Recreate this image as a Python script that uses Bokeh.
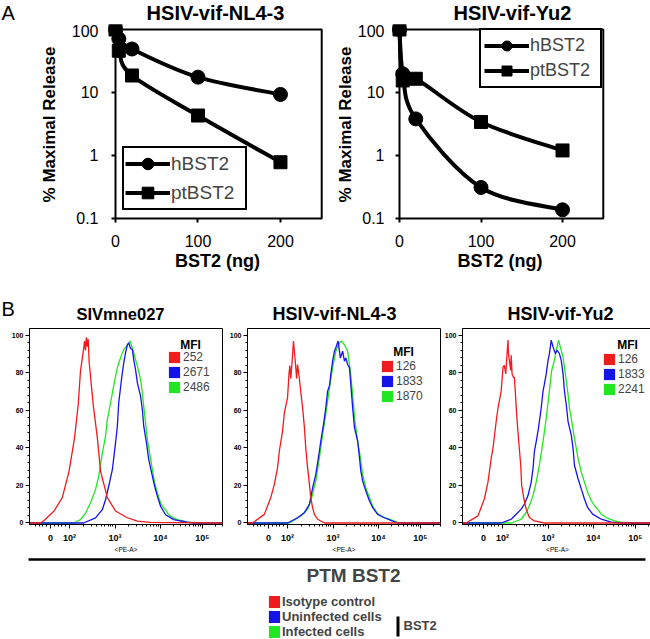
import math
from bokeh.plotting import figure
from bokeh.layouts import column, row
from bokeh.models import Range1d, FixedTicker, Label, Legend, LegendItem, BoxAnnotation
from bokeh.embed import file_html
from bokeh.resources import INLINE

FONT = "Liberation Sans"

# ---------------- Panel A data ----------------
bst2_ng = [0, 4, 20, 100, 200]
nl43_hbst2 = [100, 71, 49, 17.5, 9.3]
nl43_ptbst2 = [100, 46, 18.6, 4.3, 0.78]
yu2_hbst2 = [100, 19.8, 3.8, 0.31, 0.137]
yu2_ptbst2 = [100, 15.5, 16.5, 3.4, 1.2]
a_xticks = [0, 100, 200]
a_yticks = [0.1, 1, 10, 100]
a_yticklabels = ["0.1", "1", "10", "100"]

# ---------------- Panel B data (x in display decades of <PE-A>) ----------------
h1_red_x = [1.12, 1.36, 1.44, 1.66, 1.84, 1.99, 2.11, 2.19, 2.24, 2.31, 2.33, 2.35, 2.37, 2.39, 2.41, 2.43, 2.52, 2.61, 2.68, 2.83, 3.01, 3.27, 3.49, 3.78, 5.36]
h1_red_y = [0, 0, 1.3, 6.4, 13.5, 27.7, 45.5, 63, 81, 93, 97, 92, 99, 94, 98, 86, 63, 45.5, 27.7, 13.5, 6.4, 2.8, 1.0, 0.3, 0]
h1_blue_x = [1.12, 2.31, 2.57, 2.72, 2.79, 2.86, 2.94, 3.01, 3.05, 3.08, 3.14, 3.19, 3.23, 3.27, 3.30, 3.34, 3.38, 3.41, 3.45, 3.49, 3.56, 3.60, 3.63, 3.69, 3.74, 3.82, 3.87, 3.93, 4.00, 4.11, 4.29, 4.59, 4.73, 5.36]
h1_blue_y = [0, 0, 2.7, 7.1, 12.4, 19.6, 28.4, 42.7, 51.6, 64, 76.4, 85.3, 90.7, 95, 96, 93, 92.4, 87, 81.8, 74.7, 67.6, 60.4, 51.6, 42.7, 33.8, 24.9, 19.6, 14.2, 8.9, 4.4, 1.8, 0.4, 0, 0]
h1_green_x = [1.12, 2.09, 2.24, 2.35, 2.46, 2.57, 2.64, 2.72, 2.79, 2.83, 2.86, 2.94, 3.01, 3.05, 3.08, 3.16, 3.19, 3.27, 3.33, 3.38, 3.41, 3.49, 3.56, 3.60, 3.63, 3.67, 3.71, 3.76, 3.82, 3.87, 3.93, 4.00, 4.07, 4.11, 4.15, 4.22, 4.37, 4.59, 4.88, 5.36]
h1_green_y = [0, 0, 1.8, 5.3, 10.7, 17.8, 24.9, 37.3, 46.2, 55.1, 58.7, 69.3, 78.2, 82.7, 85.3, 90.7, 92.4, 95, 97, 93.3, 90.7, 83.6, 76.4, 69.3, 62.2, 53.3, 44.4, 37.3, 28.4, 21.3, 16, 10.7, 8, 7.1, 5.3, 3.6, 1.8, 0.4, 0, 0]

h2_red_x = [1.12, 1.23, 1.49, 1.63, 1.71, 1.78, 1.82, 1.89, 1.93, 2.00, 2.03, 2.05, 2.07, 2.10, 2.13, 2.17, 2.20, 2.22, 2.26, 2.29, 2.33, 2.37, 2.40, 2.44, 2.48, 2.51, 2.55, 2.59, 2.66, 2.81, 5.36]
h2_red_y = [0, 0, 4.6, 13.5, 20.6, 29.5, 38.4, 49, 58.8, 66.8, 79, 84, 77, 86, 97, 86, 77, 84.5, 77, 70, 61.5, 51, 40, 29.5, 20.6, 13.5, 8.2, 4.6, 2, 0, 0]
h2_blue_x = [1.12, 2.00, 2.22, 2.37, 2.48, 2.55, 2.62, 2.70, 2.73, 2.79, 2.84, 2.88, 2.92, 2.95, 2.99, 3.03, 3.06, 3.11, 3.16, 3.21, 3.25, 3.28, 3.32, 3.36, 3.39, 3.43, 3.47, 3.54, 3.58, 3.61, 3.65, 3.72, 3.80, 3.87, 3.98, 4.13, 4.27, 4.42, 5.36]
h2_blue_y = [0, 0, 2.8, 5.5, 9.9, 18.7, 25.8, 38.4, 43.7, 52.6, 61.4, 70.3, 73, 79.2, 86.3, 91.6, 93.4, 97, 88, 91.6, 86.3, 88, 84.5, 82.7, 73.9, 61.4, 50.8, 43.7, 34.8, 27.7, 22.4, 17, 11.7, 8.2, 4.6, 2.8, 1.4, 0, 0]
h2_green_x = [1.12, 2.04, 2.29, 2.44, 2.53, 2.62, 2.70, 2.77, 2.84, 2.92, 2.99, 3.06, 3.14, 3.19, 3.25, 3.32, 3.38, 3.43, 3.48, 3.54, 3.60, 3.65, 3.72, 3.80, 3.87, 3.96, 4.09, 4.27, 4.45, 5.36]
h2_green_y = [0, 0, 3.7, 7.3, 13.5, 22.4, 34.8, 47.2, 58, 72, 82.7, 91.6, 96, 97, 95, 91.6, 81, 68.5, 54.4, 43.7, 34.8, 25.8, 18.7, 13.5, 9, 5.5, 3.2, 1.8, 0, 0]

h3_red_x = [1.12, 1.20, 1.46, 1.60, 1.68, 1.75, 1.79, 1.86, 1.90, 1.97, 2.01, 2.04, 2.07, 2.10, 2.12, 2.13, 2.15, 2.18, 2.19, 2.21, 2.24, 2.26, 2.28, 2.31, 2.35, 2.40, 2.42, 2.47, 2.52, 2.59, 2.70, 2.92, 5.36]
h3_red_y = [0, 0, 3.8, 12.8, 21.8, 34.4, 39.8, 54.1, 61.3, 70.3, 83, 84, 79.5, 90.3, 97.5, 90.3, 86.7, 81.3, 89.4, 79.5, 77.6, 77.6, 70.3, 57.8, 45.2, 30.8, 20, 12.8, 7.4, 2.9, 1.1, 0, 0]
h3_blue_x = [1.12, 1.97, 2.19, 2.30, 2.41, 2.48, 2.56, 2.63, 2.67, 2.70, 2.74, 2.79, 2.85, 2.89, 2.92, 2.96, 3.00, 3.03, 3.07, 3.11, 3.16, 3.20, 3.25, 3.29, 3.33, 3.36, 3.40, 3.44, 3.51, 3.55, 3.58, 3.66, 3.73, 3.80, 3.87, 3.98, 4.17, 4.39, 4.61, 5.36]
h3_blue_y = [0, 0, 2, 4.7, 7.4, 10.1, 14.6, 21.8, 29, 38, 43.4, 50.6, 61.3, 70.3, 74, 79.5, 86.7, 90.3, 97.5, 93.9, 90.3, 92.1, 90.3, 86.7, 79.5, 70.5, 63.2, 54.1, 47, 39.8, 30.8, 23.6, 18.2, 12.8, 8.3, 4.7, 2, 0.5, 0, 0]
h3_green_x = [1.12, 2.19, 2.41, 2.52, 2.59, 2.67, 2.74, 2.81, 2.89, 2.96, 3.03, 3.08, 3.14, 3.18, 3.23, 3.29, 3.33, 3.36, 3.40, 3.44, 3.47, 3.51, 3.58, 3.66, 3.73, 3.80, 3.87, 3.95, 4.02, 4.09, 4.17, 4.28, 4.46, 4.68, 5.36]
h3_green_y = [0, 0, 2, 5.6, 9.2, 14.6, 21.8, 30.8, 43.4, 55.9, 70.3, 81.3, 86.7, 92.1, 97.5, 92.1, 88.5, 83.1, 75.9, 68.6, 61.4, 56, 45.2, 34.4, 27.2, 21.8, 16.4, 12, 9.2, 7.4, 4.7, 2.9, 1.1, 0, 0]

h1_mfi = ["252", "2671", "2486"]
h2_mfi = ["126", "1833", "1870"]
h3_mfi = ["126", "1833", "2241"]

pe_ticks = [1.58, 2, 3, 4, 4.92]
pe_ticklabels = ["0", "10\u00b2", "10\u00b3", "10\u2074", "10\u2075"]
count_ticks = [0, 20, 40, 60, 80, 100]

legend_names = ["Isotype control", "Uninfected cells", "Infected cells"]

RED, BLUE, GREEN = "#ee1c1c", "#1414e6", "#22e622"


def smooth_segments(xs, ys):
    lx = list(xs)
    ly = [math.log10(v) for v in ys]
    n = len(lx)
    d = dict(x0=[], y0=[], x1=[], y1=[], cx0=[], cy0=[], cx1=[], cy1=[])
    for i in range(n - 1):
        i0 = max(i - 1, 0)
        i3 = min(i + 2, n - 1)
        d["x0"].append(lx[i]); d["y0"].append(10 ** ly[i])
        d["x1"].append(lx[i + 1]); d["y1"].append(10 ** ly[i + 1])
        d["cx0"].append(lx[i] + (lx[i + 1] - lx[i0]) / 6)
        d["cy0"].append(10 ** (ly[i] + (ly[i + 1] - ly[i0]) / 6))
        d["cx1"].append(lx[i + 1] - (lx[i3] - lx[i]) / 6)
        d["cy1"].append(10 ** (ly[i + 1] - (ly[i3] - ly[i]) / 6))
    return d


def strip(h, texts):
    p = figure(frame_width=650, frame_height=h, min_border=0, x_range=Range1d(0, 650),
               y_range=Range1d(0, h), x_axis_type=None, y_axis_type=None,
               toolbar_location=None, output_backend="svg")
    p.outline_line_color = None
    for x, y, text, size, bold, align in texts:
        p.add_layout(Label(x=x, y=y, text=text, text_font=FONT, text_font_size=size,
                           text_font_style="bold" if bold else "normal", text_align=align,
                           text_baseline="middle", text_color="black", text_line_height=1.0))
    return p


def flabel(p, x, y, text, size, bold=True):
    p.add_layout(Label(x=x, y=y, x_units="screen", y_units="screen", text=text,
                       text_font=FONT, text_font_size=size,
                       text_font_style="bold" if bold else "normal",
                       text_align="center", text_baseline="middle", text_color="black"))


def panel_a(hb, pt, xr, frame_w, bl, br, leg_xy, leg_h, leg_pad, leg_lw, leg_font,
            ylab_standoff, ylab_s):
    p = figure(frame_width=frame_w, frame_height=200, min_border_left=bl, min_border_right=br,
               min_border_top=0, min_border_bottom=66, x_range=Range1d(*xr),
               y_range=Range1d(0.08, 120), y_axis_type="log",
               toolbar_location=None, output_backend="svg")
    p.grid.visible = False
    p.outline_line_color = None
    for ax in (p.xaxis[0], p.yaxis[0]):
        ax.axis_line_color = None
        ax.major_tick_line_width = 2
        ax.minor_tick_line_color = None
        ax.major_label_text_font = FONT
        ax.major_label_text_font_size = "16px"
        ax.major_label_text_color = "black"
        ax.axis_label_text_font = FONT
        ax.axis_label_text_font_style = "bold"
        ax.axis_label_text_color = "black"
    p.yaxis.major_tick_in = 8
    p.yaxis.major_tick_out = -4
    p.yaxis.major_label_standoff = ylab_s
    p.xaxis.major_tick_in = 6
    p.xaxis.major_tick_out = -2
    p.xaxis.major_label_standoff = 10
    p.xaxis.ticker = FixedTicker(ticks=a_xticks)
    p.yaxis.ticker = FixedTicker(ticks=a_yticks)
    p.yaxis.major_label_overrides = dict(zip(a_yticks, a_yticklabels))
    p.xaxis.axis_label = "BST2 (ng)"
    p.xaxis.axis_label_text_font_size = "18px"
    p.xaxis.axis_label_standoff = 1
    p.yaxis.axis_label = "% Maximal Release"
    p.yaxis.axis_label_text_font_size = "17px"
    p.yaxis.axis_label_standoff = ylab_standoff

    p.add_layout(BoxAnnotation(left=0, right=250, bottom=0.1, top=100, fill_color=None,
                               line_color="black", line_alpha=1, line_width=2))

    items = []
    for name, vals, marker, size in (("hBST2", hb, "circle", 14), ("ptBST2", pt, "square", 13)):
        seg = smooth_segments(bst2_ng, vals)
        lr = p.bezier(x0=seg["x0"], y0=seg["y0"], x1=seg["x1"], y1=seg["y1"],
                      cx0=seg["cx0"], cy0=seg["cy0"], cx1=seg["cx1"], cy1=seg["cy1"],
                      line_color="black", line_width=4)
        sr = p.scatter(bst2_ng, vals, marker=marker, size=size, fill_color="black", line_color="black")
        items.append(LegendItem(label=name, renderers=[lr, sr]))
    leg = Legend(items=items, location=leg_xy, glyph_width=45, glyph_height=leg_h,
                 label_height=leg_h, spacing=0, padding=leg_pad, margin=0, label_standoff=1,
                 label_width=leg_lw, label_text_font=FONT, label_text_font_size=leg_font,
                 border_line_color="black", border_line_width=2, border_line_alpha=1,
                 background_fill_color="white", background_fill_alpha=1)
    p.add_layout(leg)
    return p


strip_a = strip(24, [(1, 11.5, "A", "20px", False, "left"),
                     (215, 11.5, "HSIV-vif-NL4-3", "20px", True, "center"),
                     (512, 11.5, "HSIV-vif-Yu2", "20px", True, "center")])

pa1 = panel_a(nl43_hbst2, nl43_ptbst2, (-9.7, 257), 220, 107, 0,
              (15, 14), 29, 1, 73, "19px", 10, 9)
pa2 = panel_a(yu2_hbst2, yu2_ptbst2, (-9.8, 256.4), 217, 64, 42,
              (88, 136), 25, 3, 67, "18px", 0, 7)

strip_b = strip(36, [(1, 17.5, "B", "20px", False, "left"),
                     (120, 12.5, "SIVmne027", "16.5px", True, "center"),
                     (334, 12.5, "HSIV-vif-NL4-3", "18px", True, "center"),
                     (560, 12.5, "HSIV-vif-Yu2", "18px", True, "center")])

pe_minor = ([1.25, 1.33, 1.41, 1.49, 1.67, 1.75, 1.83, 1.91]
            + [dd + math.log10(k) for dd in (2, 3) for k in range(2, 10)]
            + [4 + 0.92 * math.log10(k) for k in range(2, 10)]
            + [4.92 + 0.92 * math.log10(k) for k in (2, 3)])
count_minor = [v for v in range(0, 104, 4) if v % 20]


def hist_fig(curves, mfi, frame_w, bl, br, x_end, mfi_xy, leg_xy):
    p = figure(frame_width=frame_w, frame_height=196, min_border_left=bl, min_border_right=br,
               min_border_top=2, min_border_bottom=31, x_range=Range1d(1.12, x_end),
               y_range=Range1d(-0.8, 103.7), toolbar_location=None, output_backend="svg")
    p.grid.visible = False
    p.outline_line_color = "black"
    p.outline_line_width = 1
    p.outline_line_alpha = 1
    for ax in (p.xaxis[0], p.yaxis[0]):
        ax.axis_line_width = 1
        ax.major_tick_in = 0
        ax.major_tick_out = 4
        ax.minor_tick_in = 0
        ax.minor_tick_out = 2
        ax.major_label_text_font = FONT
        ax.major_label_text_font_style = "bold"
        ax.major_label_text_color = "black"
    p.yaxis.ticker = FixedTicker(ticks=count_ticks, minor_ticks=count_minor)
    p.yaxis.major_label_text_font_size = "7px"
    p.yaxis.major_label_standoff = 2
    p.xaxis.ticker = FixedTicker(ticks=pe_ticks, minor_ticks=pe_minor)
    p.xaxis.major_label_overrides = dict(zip(pe_ticks, pe_ticklabels))
    p.xaxis.major_label_text_font_size = "9px"
    p.xaxis.major_label_standoff = 4
    p.xaxis.axis_label = "<PE-A>"
    p.xaxis.axis_label_text_font = FONT
    p.xaxis.axis_label_text_font_size = "6.5px"
    p.xaxis.axis_label_text_font_style = "normal"
    p.xaxis.axis_label_text_color = "black"
    p.xaxis.axis_label_standoff = 0

    for xs, ys, col in curves:
        p.line(xs, ys, line_color=col, line_width=1.3)

    items = []
    for lab, (xs, ys, col) in zip(mfi, curves[::-1]):
        r = p.quad(left=[min(xs)], right=[max(xs)], bottom=[0], top=[max(ys)],
                   fill_color=col, line_color=None, visible=False)
        items.append(LegendItem(label=lab, renderers=[r]))
    leg = Legend(items=items, location=leg_xy, glyph_width=14, glyph_height=14, label_height=14,
                 spacing=1, padding=0, margin=0, label_standoff=2, label_text_font=FONT,
                 label_text_font_size="12px", border_line_color=None, background_fill_alpha=0)
    p.add_layout(leg)
    flabel(p, mfi_xy[0], mfi_xy[1], "MFI", "12px")
    return p


ph1 = hist_fig([(h1_green_x, h1_green_y, GREEN), (h1_blue_x, h1_blue_y, BLUE), (h1_red_x, h1_red_y, RED)],
               h1_mfi, 193, 29, 3, 5.36, (161, 180), (138, 130))
ph2 = hist_fig([(h2_green_x, h2_green_y, GREEN), (h2_blue_x, h2_blue_y, BLUE), (h2_red_x, h2_red_y, RED)],
               h2_mfi, 193, 22, 1, 5.36, (156, 173), (133, 121))
ph3 = hist_fig([(h3_green_x, h3_green_y, GREEN), (h3_blue_x, h3_blue_y, BLUE), (h3_red_x, h3_red_y, RED)],
               h3_mfi, 190, 17, 2, 1.12 + 190 / 45.5, (165, 180), (140, 128))

pb = figure(frame_width=650, frame_height=84, min_border=0, x_range=Range1d(0, 650),
            y_range=Range1d(0, 84), x_axis_type=None, y_axis_type=None,
            toolbar_location=None, output_backend="svg")
pb.outline_line_color = None
pb.add_layout(BoxAnnotation(left=28, right=645, bottom=78.8, top=81.2, fill_color="black",
                            fill_alpha=1, line_color=None))
pb.add_layout(Label(x=353, y=64, text="PTM BST2", text_font=FONT, text_font_size="19px",
                    text_font_style="bold", text_align="center", text_baseline="middle"))
# one legend per row so that the rows keep the reference's tight spacing
for lab, (xs, ys, col), bottom in zip(legend_names,
                                      ((h1_red_x, h1_red_y, RED), (h1_blue_x, h1_blue_y, BLUE),
                                       (h1_green_x, h1_green_y, GREEN)),
                                      (30, 15, 0)):
    r = pb.quad(left=[min(xs)], right=[max(xs)], bottom=[0], top=[max(ys)], fill_color=col,
                line_color=None, visible=False)
    pb.add_layout(Legend(items=[LegendItem(label=lab, renderers=[r])], location=(267, bottom),
                         glyph_width=14, glyph_height=15, label_height=16, spacing=0, padding=0,
                         margin=0, label_standoff=1, label_text_font=FONT,
                         label_text_font_size="13px", label_text_font_style="bold",
                         border_line_color=None, background_fill_alpha=0))
pb.add_layout(BoxAnnotation(left=396, right=399, bottom=3, top=23, fill_color="black",
                            fill_alpha=1, line_color=None))
pb.add_layout(Label(x=403, y=14, text="BST2", text_font=FONT, text_font_size="13px",
                    text_font_style="bold", text_align="left", text_baseline="middle"))

layout = column(strip_a, row(pa1, pa2), strip_b, row(ph1, ph2, ph3), pb)
open("out.html", "w").write(file_html(layout, INLINE))
